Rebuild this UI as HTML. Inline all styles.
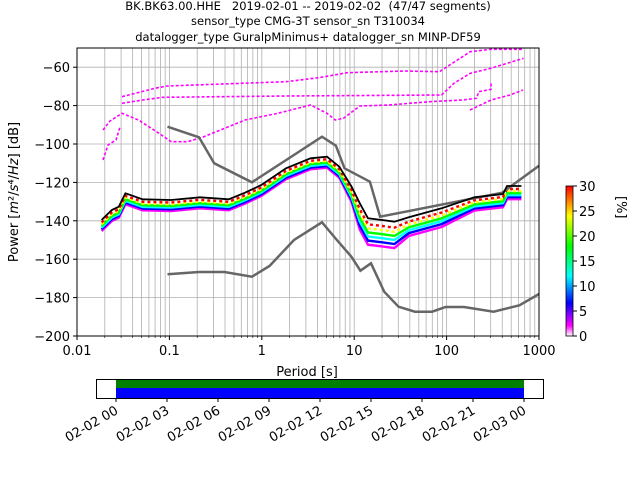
<!DOCTYPE html>
<html><head><style>
body{margin:0;background:#fff;}
svg text{font-family:"DejaVu Sans","Liberation Sans",sans-serif;white-space:pre;}
</style></head><body>
<svg id="s" width="640" height="480" xmlns="http://www.w3.org/2000/svg">
<defs><linearGradient id="cb" x1="0" y1="1" x2="0" y2="0">
<stop offset="0" stop-color="#ffffff"/><stop offset="0.07" stop-color="#ff00ff"/><stop offset="0.22" stop-color="#0000ff"/><stop offset="0.4" stop-color="#00ffff"/><stop offset="0.6" stop-color="#00ff00"/><stop offset="0.8" stop-color="#ffff00"/><stop offset="1" stop-color="#ff0000"/></linearGradient></defs>
<g font-size="11.5" text-anchor="middle" fill="#000">
<text x="308" y="10" xml:space="preserve">BK.BK63.00.HHE   2019-02-01 -- 2019-02-02  (47/47 segments)</text>
<text x="308" y="25">sensor_type CMG-3T sensor_sn T310034</text>
<text x="308" y="41">datalogger_type GuralpMinimus+ datalogger_sn MINP-DF59</text>
</g>
<g id="grid" stroke="#b0b0b0" stroke-width="0.8"></g>
<g id="data"></g>
<rect x="77" y="48" width="462" height="288" fill="none" stroke="#000" stroke-width="1"/>
<g id="ticks" font-size="13" fill="#000"></g>
<text x="307" y="376" font-size="13" text-anchor="middle">Period [s]</text>
<text transform="translate(18,192) rotate(-90)" font-size="13" text-anchor="middle">Power [<tspan font-style="italic">m</tspan>²/<tspan font-style="italic">s</tspan>⁴/<tspan font-style="italic">Hz</tspan>] [dB]</text>
<rect x="566" y="186" width="7" height="150" fill="url(#cb)" stroke="#000" stroke-width="0.8"/>
<g font-size="13" id="cbt"></g>
<text transform="translate(617,196) rotate(90)" font-size="13">[%]</text>
<rect x="96.5" y="379.5" width="447" height="19" fill="#fff" stroke="#000"/>
<rect x="116" y="380" width="408" height="8" fill="#008000"/>
<rect x="116" y="388" width="408" height="10" fill="#0000ff"/>
<g id="bt" font-size="13"></g>
</svg>
<script>
var NS="http://www.w3.org/2000/svg";
function el(p,t,a,tx){var e=document.createElementNS(NS,t);for(var k in a)e.setAttribute(k,a[k]);if(tx!=null)e.textContent=tx;document.getElementById(p).appendChild(e);return e;}
function X(p){return 77+92.4*(Math.log10(p)+2);}
function Y(d){return 48+(-50-d)*1.92;}
for(var dec=-2;dec<3;dec++)for(var m=1;m<10;m++){var x=X(m*Math.pow(10,dec));if(x>77&&x<539)el("grid","line",{x1:x,y1:48,x2:x,y2:336});}
for(var d=-60;d>=-180;d-=20)el("grid","line",{x1:77,y1:Y(d),x2:539,y2:Y(d)});
var lab=["0.01","0.1","1","10","100","1000"];
for(var i=0;i<6;i++){var x=77+92.4*i;el("ticks","line",{x1:x,y1:336,x2:x,y2:340,stroke:"#000"});el("ticks","text",{x:x,y:355,"text-anchor":"middle"},lab[i]);}
for(var dec=-2;dec<3;dec++)for(var m=2;m<10;m++){var x=X(m*Math.pow(10,dec));el("ticks","line",{x1:x,y1:336,x2:x,y2:338,stroke:"#000","stroke-width":0.6});}
for(var d=-60;d>=-200;d-=20){var y=Y(d);el("ticks","line",{x1:73,y1:y,x2:77,y2:y,stroke:"#000"});el("ticks","text",{x:70,y:y+5,"text-anchor":"end"},"\u2212"+(-d));}
for(var v=0;v<=30;v+=5){var y=336-v*5;el("cbt","line",{x1:573,y1:y,x2:577,y2:y,stroke:"#000"});el("cbt","text",{x:579,y:y+5},""+v);}
for(var i=0;i<9;i++){var x=116+51*i;el("bt","line",{x1:x,y1:398,x2:x,y2:402,stroke:"#000"});var h=["00","03","06","09","12","15","18","21","00"][i];var tx=x+3,ty=413;el("bt","text",{x:tx,y:ty,"text-anchor":"end",transform:"rotate(-30 "+tx+" "+ty+")"},(i==8?"02-03 ":"02-02 ")+h);}
function pts(a){return a.map(function(p){return p[0]+","+p[1]}).join(" ");}
var mean=[[101.6,220],[111.8,210],[118.8,206.7],[125.4,193.3],[142.6,199.3],[171.2,200],[200,197.3],[228.7,199.3],[245,192.7],[261.3,185],[286,168.3],[310.6,158.3],[327,156.7],[339.3,166.7],[351.6,186.7],[359.8,203.3],[368,218.3],[382.2,220],[394.4,221.7],[408.8,217.3],[441.6,208.3],[474.3,197.3],[503,194],[507,186],[521.4,186]];
function sc(x){if(x<345)return 1;if(x<355)return 1.4;if(x<400)return 2.4;if(x<470)return 1.7;return 1.2;}
var cols=["#ff0000","#ffff00","#00ff00","#00ffff","#0000ff","#ff00ff"];
for(var c=5;c>=0;c--){var o=2.5+c*1.7;el("data","polyline",{points:pts(mean.map(function(p){return [p[0],p[1]+o*sc(p[0])]})),fill:"none",stroke:cols[c],"stroke-width":2.4,"stroke-dasharray":c<2?"3 3":"none"});}
var L=[[[122,96.7],[154.8,88.3],[167,86],[286,81.7],[318.7,77.7],[347.3,72.7],[404.7,71],[439.5,71.7],[449.7,65],[470.2,51.7],[490.7,49.3],[523.5,49.3]],
[[122,103.3],[142.5,100],[163,97.3],[286,96],[441.6,95],[453.9,83.3],[470.2,73.3],[490.7,68.3],[523.5,58.3]],
[[103,130],[110,121],[122,113.3],[138.5,120],[159,133.3],[171.2,141.7],[187.6,141.7],[204,136.7],[220.4,130],[245,120],[277.8,113.3],[310.6,105],[327,113.3],[335.3,120],[343.5,118.3],[359.8,106],[388.5,105],[429.5,101.7],[462.3,100],[476.6,98.3],[478.7,91.7],[491,89.3],[491,81.7]],
[[103,160],[108,145],[116,140],[120,127]],[[470,110],[491,100],[510,95],[523,90]]];
L.forEach(function(l){el("data","polyline",{points:pts(l),fill:"none",stroke:"#ff00ff","stroke-width":1.6,"stroke-dasharray":"3 2"});});
el("data","polyline",{points:pts([[167.5,126.7],[199,137.3],[214.2,163.3],[251.9,182.3],[322,136.7],[335.9,145.7],[344.5,168.3],[369.9,181.7],[380.1,216.7],[502.2,192.7],[539,165.7]]),fill:"none",stroke:"#666","stroke-width":2.5});
el("data","polyline",{points:pts([[167.5,274.3],[199,272],[224.5,272],[251.9,276.7],[269.5,266],[294,240],[322,222.3],[336,239],[351.4,256.7],[360.4,270.7],[371,263.3],[384.2,291.7],[398.5,306.7],[414.9,311.7],[432.1,311.7],[445.6,307],[464,307],[493.6,311.7],[519.4,305.3],[539,294]]),fill:"none",stroke:"#666","stroke-width":2.5});
el("data","polyline",{points:pts(mean),fill:"none",stroke:"#000","stroke-width":1.8});
</script>
</body></html>
